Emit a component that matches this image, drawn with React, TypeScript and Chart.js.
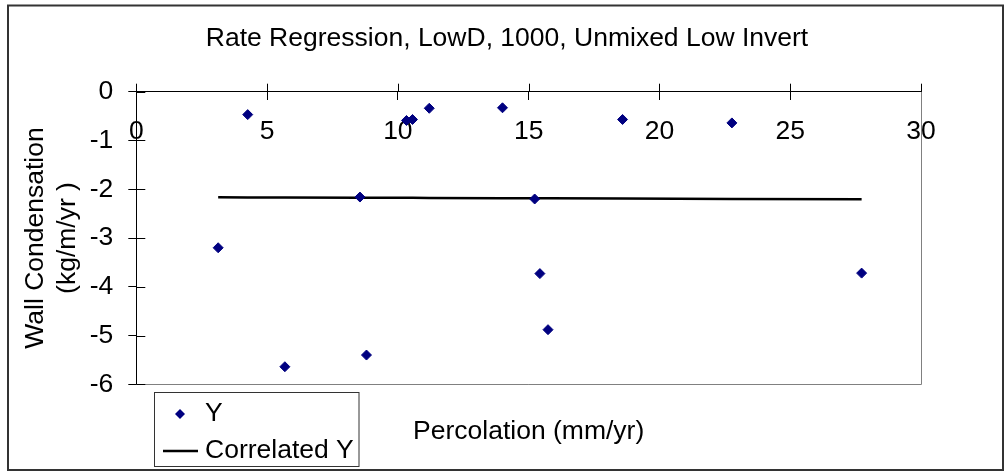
import React, { useEffect, useRef } from 'react';
import { Chart, registerables } from 'chart.js';

Chart.register(...registerables);

// ---- data ----
const percolation = [3.13, 4.26, 5.68, 8.55, 8.8, 10.33, 10.56, 11.2, 14.0, 15.23, 15.43, 15.74, 18.59, 22.77, 27.73];
const wallCondensation = [-3.2, -0.47, -5.64, -2.16, -5.4, -0.59, -0.57, -0.34, -0.33, -2.2, -3.73, -4.88, -0.57, -0.64, -3.72];
const correlatedY = [-2.165, -2.167, -2.169, -2.174, -2.174, -2.177, -2.177, -2.178, -2.183, -2.185, -2.185, -2.186, -2.191, -2.198, -2.206];

const xRange = [0, 30];
const xStep = 5;
const yRange = [-6, 0];
const yStep = 1;

const chartTitle = 'Rate Regression, LowD, 1000, Unmixed Low Invert';
const xTitle = 'Percolation (mm/yr)';
const yTitle = ['Wall Condensation', '(kg/m/yr )'];
const seriesNames = ['Y', 'Correlated Y'];

const FONT = '"Liberation Sans", Arial, Helvetica, sans-serif';
const FS = 26.5;
const POINT_COLOR = '#000080';

const decor = {
  id: 'decor',
  afterDraw(chart: any) {
    const ctx = chart.ctx as CanvasRenderingContext2D;
    const { left, right, top, bottom } = chart.chartArea;
    const xs = chart.scales.x;
    const ys = chart.scales.y;
    ctx.save();

    // plot-area border (right & bottom, gray)
    ctx.strokeStyle = '#808080';
    ctx.lineWidth = 1;
    ctx.beginPath();
    const rx = Math.round(right) + 0.5;
    const by = Math.round(bottom) + 0.5;
    ctx.moveTo(rx, top);
    ctx.lineTo(rx, by);
    ctx.moveTo(left, by);
    ctx.lineTo(rx, by);
    ctx.stroke();

    // second half of the crossing tick marks
    ctx.strokeStyle = '#000';
    ctx.beginPath();
    const y0 = ys.getPixelForValue(0);
    xs.ticks.forEach((t: any) => {
      const px = Math.round(xs.getPixelForValue(t.value)) + 0.5;
      ctx.moveTo(px, y0);
      ctx.lineTo(px, y0 - 8);
    });
    const x0 = xs.getPixelForValue(0);
    ys.ticks.forEach((t: any) => {
      const py = Math.round(ys.getPixelForValue(t.value)) + 0.5;
      ctx.moveTo(x0, py);
      ctx.lineTo(x0 + 9, py);
    });
    ctx.stroke();

    // chart title and x-axis title
    ctx.fillStyle = '#000';
    ctx.font = `${FS}px ${FONT}`;
    ctx.textBaseline = 'middle';
    ctx.textAlign = 'center';
    ctx.fillText(chartTitle, 507, 38.5);
    ctx.fillText(xTitle, (left + right) / 2, 432);

    // legend box
    ctx.fillStyle = '#fff';
    ctx.fillRect(154.5, 392.5, 204.5, 74);
    ctx.strokeStyle = '#333';
    ctx.lineWidth = 1;
    ctx.strokeRect(154.5, 392.5, 204.5, 74);
    // marker entry
    ctx.fillStyle = POINT_COLOR;
    ctx.beginPath();
    ctx.moveTo(180, 409);
    ctx.lineTo(185, 414);
    ctx.lineTo(180, 419);
    ctx.lineTo(175, 414);
    ctx.closePath();
    ctx.fill();
    // line entry
    ctx.strokeStyle = '#000';
    ctx.lineWidth = 2.5;
    ctx.beginPath();
    ctx.moveTo(163, 451);
    ctx.lineTo(198, 451);
    ctx.stroke();
    ctx.fillStyle = '#000';
    ctx.textAlign = 'left';
    ctx.fillText(seriesNames[0], 205, 414);
    ctx.fillText(seriesNames[1], 205, 451);

    // outer chart border
    ctx.strokeStyle = '#333';
    ctx.lineWidth = 2;
    ctx.strokeRect(8, 5.5, 995, 464.5);
    ctx.restore();
  },
};

export default function App() {
  const canvasRef = useRef<HTMLCanvasElement | null>(null);

  useEffect(() => {
    document.body.style.margin = '0';
    const canvas = canvasRef.current;
    if (!canvas) return;
    Chart.defaults.font.family = FONT;

    const chart = new Chart(canvas, {
      type: 'scatter',
      data: {
        datasets: [
          {
            label: seriesNames[0],
            data: percolation.map((x, i) => ({ x, y: wallCondensation[i] })),
            pointStyle: 'rectRot',
            pointRadius: 5,
            pointBackgroundColor: POINT_COLOR,
            pointBorderColor: POINT_COLOR,
            pointBorderWidth: 1,
            showLine: false,
          },
          {
            label: seriesNames[1],
            data: percolation.map((x, i) => ({ x, y: correlatedY[i] })),
            showLine: true,
            pointRadius: 0,
            borderColor: '#000',
            borderWidth: 2.5,
            fill: false,
          },
        ],
      },
      options: {
        responsive: false,
        animation: false,
        events: [],
        layout: { padding: { left: 8, right: 84, top: 91.7, bottom: 86.7 } },
        plugins: {
          legend: { display: false },
          title: { display: false },
          tooltip: { enabled: false },
        },
        scales: {
          x: {
            type: 'linear',
            position: { y: 0 } as any,
            min: xRange[0],
            max: xRange[1],
            ticks: {
              stepSize: xStep,
              color: '#000',
              font: { size: FS },
              padding: 16.5,
              maxRotation: 0,
              autoSkip: false,
            },
            grid: { drawOnChartArea: false, drawTicks: true, tickLength: 8, color: '#000' },
            border: { display: true, color: '#000', width: 1 },
          },
          y: {
            type: 'linear',
            position: 'left',
            min: yRange[0],
            max: yRange[1],
            afterFit: (scale: any) => {
              scale.width = 128.3;
            },
            ticks: {
              stepSize: yStep,
              color: '#000',
              font: { size: FS },
              padding: 15,
              autoSkip: false,
            },
            grid: { drawOnChartArea: false, drawTicks: true, tickLength: 8, color: '#000' },
            border: { display: true, color: '#000', width: 1 },
            title: {
              display: true,
              text: yTitle,
              color: '#000',
              font: { size: FS, lineHeight: '32px' } as any,
              padding: { top: 12, bottom: 0 },
            },
          },
        },
      },
      plugins: [decor],
    });

    return () => chart.destroy();
  }, []);

  return (
    <div style={{ width: 1005, height: 471 }}>
      <canvas ref={canvasRef} width={1005} height={471} style={{ display: 'block' }} />
    </div>
  );
}
